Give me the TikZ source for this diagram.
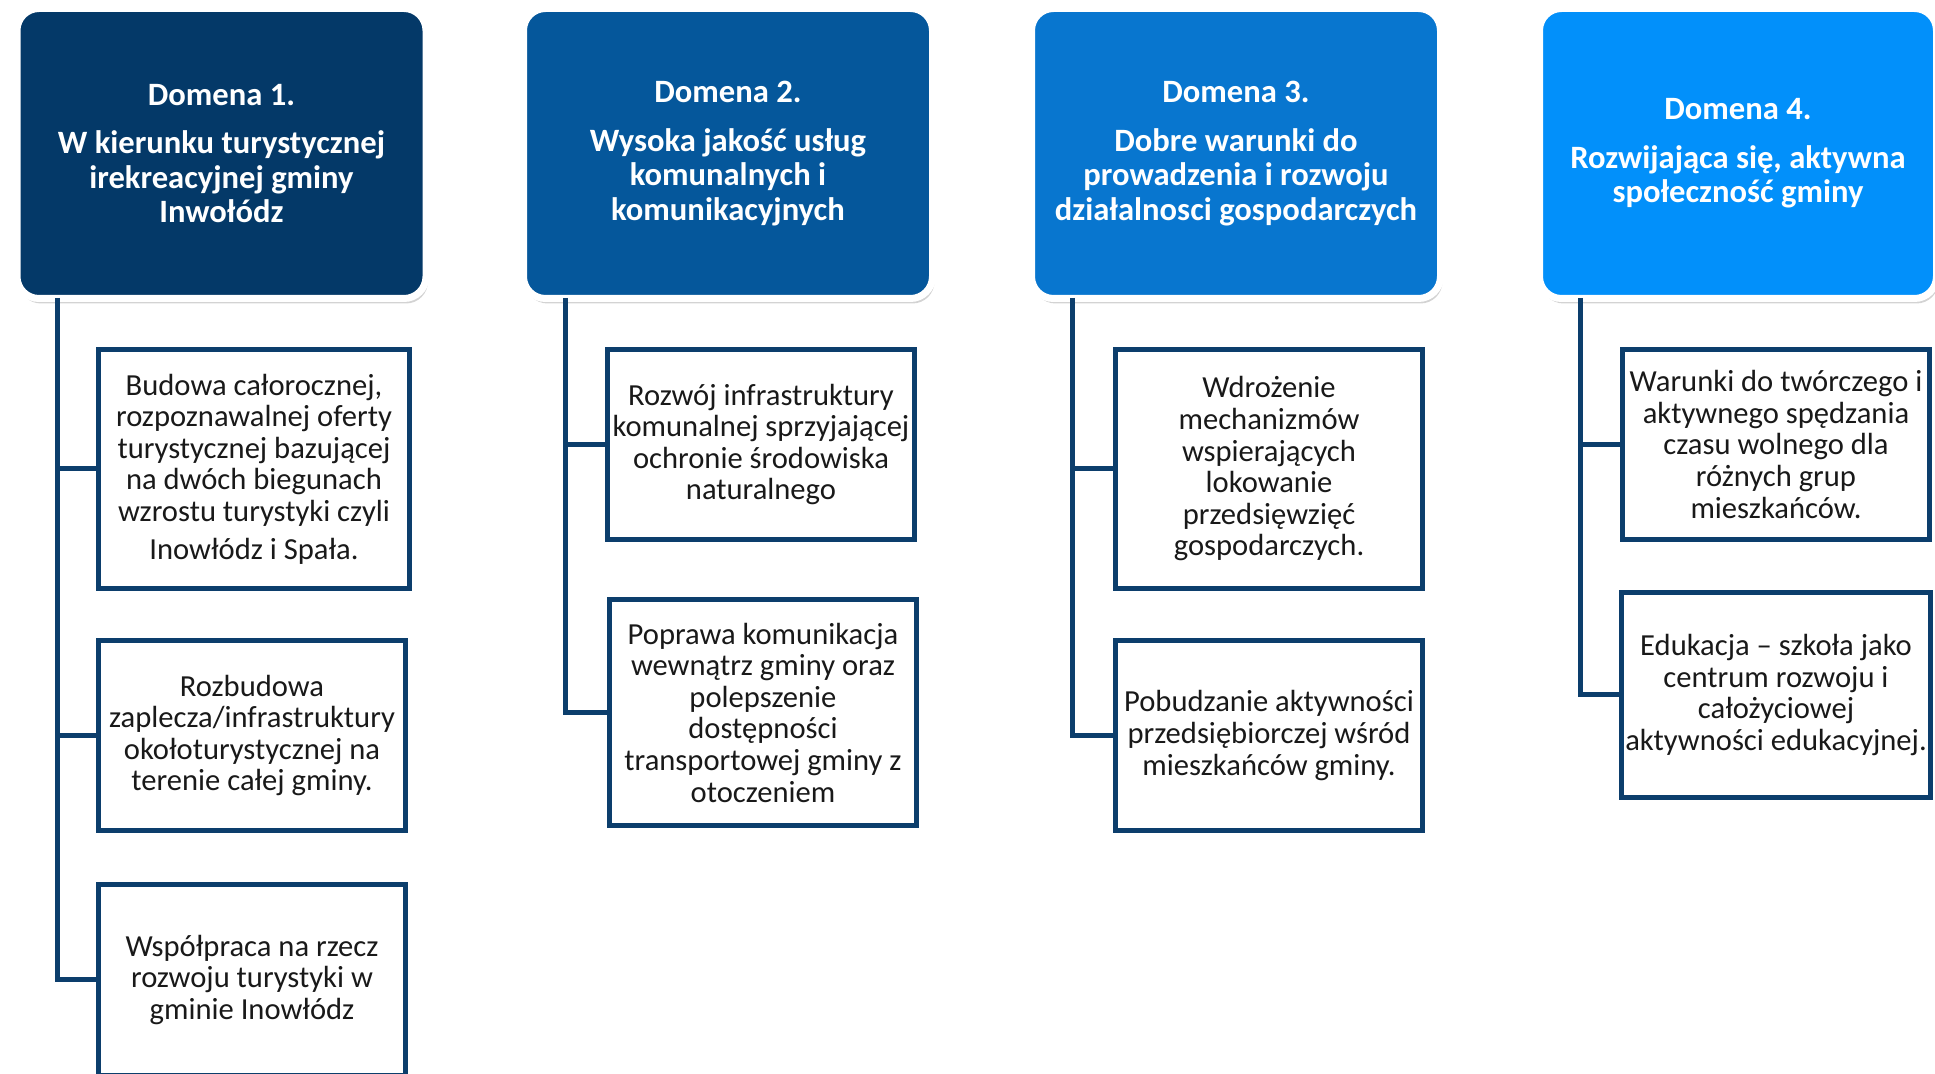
\documentclass[tikz,border=0pt]{standalone}
\usepackage{fontspec}
\setmainfont{Carlito}
\usepackage{tikz}
\usetikzlibrary{shadows}
\usetikzlibrary{positioning}
\definecolor{dom1}{RGB}{4,57,104}
\definecolor{dom2}{RGB}{5,87,155}
\definecolor{dom3}{RGB}{8,118,207}
\definecolor{dom4}{RGB}{2,144,250}
\definecolor{linia}{RGB}{12,62,108}

\begin{document}
\begin{tikzpicture}[x=0.5pt,y=-0.5pt,
    domena/.style={rounded corners=11pt, draw=white, line width=3.5pt, text=white, align=center,
        minimum width=204.5pt, minimum height=145pt, font=\bfseries\fontsize{16.3}{17.3}\selectfont,
        general shadow={shadow scale=1.04, opacity=.18},
        drop shadow={shadow xshift=1pt, shadow yshift=-2.5pt, opacity=.35}},
    cel/.style={draw=linia, line width=2.5pt, fill=white, align=center, minimum width=153.5pt,
        inner sep=2pt, text=black!90, font=\fontsize{15.3}{15.8}\selectfont},
    link/.style={draw=linia, line width=2.5pt}]
        \useasboundingbox (0,0) rectangle (1935,1074);
        \clip (0,0) rectangle (1935,1074);

        %domeny
        \node[domena, fill=dom1] (d1) at (221.5,153.5) {Domena 1.\\[7pt]W kierunku turystycznej\\irekreacyjnej gminy\\Inwołódz};
        \node[domena, fill=dom2] (d2) at (728,153.5) {Domena 2.\\[7pt]Wysoka jakość usług\\komunalnych i\\komunikacyjnych};
        \node[domena, fill=dom3] (d3) at (1236,153.5) {Domena 3.\\[7pt]Dobre warunki do\\prowadzenia i rozwoju\\działalnosci gospodarczych};
        \node[domena, fill=dom4, minimum width=198.5pt] (d4) at (1738,153.5) {Domena 4.\\[7pt]Rozwijająca się, aktywna\\społeczność gminy};

        %pnie
        \coordinate (t1) at (57,298);
        \coordinate (t2) at (565,298);
        \coordinate (t3) at (1072,298);
        \coordinate (t4) at (1580,298);

        %cele - domena 1
        \node[cel, minimum width=155.5pt, minimum height=119.5pt] (b1a) at (254,469) {Budowa całorocznej,\\rozpoznawalnej oferty\\turystycznej bazującej\\na dwóch biegunach\\wzrostu turystyki czyli\\[3pt]Inowłódz i Spała.};
        \node[cel, minimum height=95pt] (b1b) at (252,735.5) {Rozbudowa\\zaplecza/infrastruktury\\okołoturystycznej na\\terenie całej gminy.};
        \node[cel, minimum height=95pt] (b1c) at (252,980) {Współpraca na rzecz\\rozwoju turystyki w\\gminie Inowłódz};

        %cele - domena 2
        \node[cel, minimum height=95pt] (b2a) at (761,444.5) {Rozwój infrastruktury\\komunalnej sprzyjającej\\ochronie środowiska\\naturalnego};
        \node[cel, minimum height=113pt] (b2b) at (763,712.5) {Poprawa komunikacja\\wewnątrz gminy oraz\\polepszenie\\dostępności\\transportowej gminy z\\otoczeniem};

        %cele - domena 3
        \node[cel, minimum height=119.5pt] (b3a) at (1269,469) {Wdrożenie\\mechanizmów\\wspierających\\lokowanie\\przedsięwzięć\\gospodarczych.};
        \node[cel, minimum height=95pt] (b3b) at (1269,735.5) {Pobudzanie aktywności\\przedsiębiorczej wśród\\mieszkańców gminy.};

        %cele - domena 4
        \node[cel, minimum height=95pt] (b4a) at (1776,444.5) {Warunki do twórczego i\\aktywnego spędzania\\czasu wolnego dla\\różnych grup\\mieszkańców.};
        \node[cel, minimum height=102.5pt] (b4b) at (1776,695) {Edukacja – szkoła jako\\centrum rozwoju i\\całożyciowej\\aktywności edukacyjnej.};

        %linie
        \draw[link] (t1) |- (b1c.west);
        \draw[link] (t1 |- b1a.west) -- (b1a.west);
        \draw[link] (t1 |- b1b.west) -- (b1b.west);
        \draw[link] (t2) |- (b2b.west);
        \draw[link] (t2 |- b2a.west) -- (b2a.west);
        \draw[link] (t3) |- (b3b.west);
        \draw[link] (t3 |- b3a.west) -- (b3a.west);
        \draw[link] (t4) |- (b4b.west);
        \draw[link] (t4 |- b4a.west) -- (b4a.west);
    \end{tikzpicture}
\end{document}
